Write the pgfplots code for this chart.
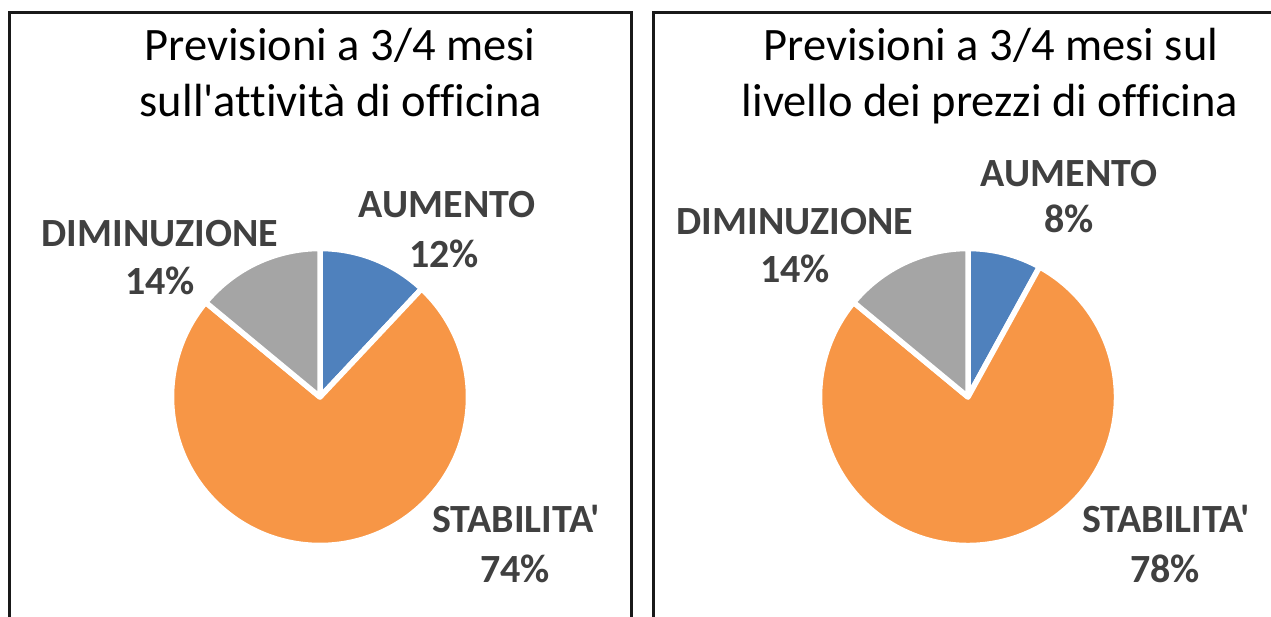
\documentclass[border=0pt]{standalone}
\usepackage{fontspec}
\setmainfont{Carlito}[Ligatures={TeXOff,NoCommon}]
\usepackage{pgfplots}
\usepackage{pgfplotstable}
\pgfplotsset{compat=1.18}
\definecolor{pieblue}{HTML}{4F81BD}
\definecolor{pieorange}{HTML}{F79646}
\definecolor{piegray}{HTML}{A5A5A5}
\definecolor{labgray}{HTML}{404040}

% share of each category, in percent
\pgfplotstableread{
label value
AUMENTO 12
STABILITA 74
DIMINUZIONE 14
}\leftdata
\pgfplotstableread{
label value
AUMENTO 8
STABILITA 78
DIMINUZIONE 14
}\rightdata

\newcommand{\pieangles}[2]{% table, prefix
  \pgfplotstablegetelem{0}{value}\of#1\pgfmathsetmacro\tmpa{\pgfplotsretval}%
  \pgfplotstablegetelem{1}{value}\of#1\pgfmathsetmacro\tmpb{\pgfplotsretval}%
  \pgfplotstablegetelem{2}{value}\of#1\pgfmathsetmacro\tmpc{\pgfplotsretval}%
  \pgfmathsetmacro\tmpx{90-3.6*\tmpa}\expandafter\xdef\csname #2b\endcsname{\tmpx}%
  \pgfmathsetmacro\tmpy{\tmpx-3.6*\tmpb}\expandafter\xdef\csname #2c\endcsname{\tmpy}%
  \pgfmathsetmacro\tmpz{\tmpy-3.6*\tmpc}\expandafter\xdef\csname #2d\endcsname{\tmpz}%
}

\newcommand{\pieslice}[5]{% color, cx, cy, start, end
  \filldraw[fill=#1, draw=white, line width=5.5pt, line join=round]
    (axis cs:#2,#3) -- ++(#4:148.5pt) arc[start angle=#4, end angle=#5, radius=148.5pt] -- cycle;
}

\pgfplotsset{piebox/.style={
  scale only axis,
  xtick=\empty, ytick=\empty,
  axis line style={line width=3pt, black!90},
  clip=false,
}}
\newcommand{\ttl}{\fontsize{46.5}{56}\selectfont}
\newcommand{\lab}{\fontsize{40}{48}\selectfont\bfseries}
\newcommand{\apo}{'}

\begin{document}
\begin{tikzpicture}
\useasboundingbox (0,0) rectangle (1271pt,616pt);
\pieangles{\leftdata}{L}
\pieangles{\rightdata}{R}

\begin{axis}[piebox, at={(10pt,-30pt)}, anchor=south west,
  width=621pt, height=633pt, xmin=10, xmax=631, ymin=-30, ymax=603]
  \pieslice{pieblue}{320}{219}{90}{\Lb}
  \pieslice{pieorange}{320}{219}{\Lb}{\Lc}
  \pieslice{piegray}{320}{219}{\Lc}{\Ld}
  \node[anchor=base, font=\ttl] at (axis cs:340,555) {Previsioni a 3/4 mesi};
  \node[anchor=base, font=\ttl] at (axis cs:341,499) {sull\apo attività di officina};
  \node[anchor=base, text=labgray, font=\lab] at (axis cs:447,398) {AUMENTO};
  \node[anchor=base, text=labgray, font=\lab] at (axis cs:444,348) {12\%};
  \node[anchor=base, text=labgray, font=\lab] at (axis cs:160,369) {DIMINUZIONE};
  \node[anchor=base, text=labgray, font=\lab] at (axis cs:160,321) {14\%};
  \node[anchor=base, text=labgray, font=\lab] at (axis cs:516,84) {STABILITA\apo};
  \node[anchor=base, text=labgray, font=\lab] at (axis cs:515,34) {74\%};
\end{axis}

\begin{axis}[piebox, at={(653pt,-30pt)}, anchor=south west,
  width=640pt, height=633pt, xmin=653, xmax=1293, ymin=-30, ymax=603]
  \pieslice{pieblue}{968}{219}{90}{\Rb}
  \pieslice{pieorange}{968}{219}{\Rb}{\Rc}
  \pieslice{piegray}{968}{219}{\Rc}{\Rd}
  \node[anchor=base, font=\ttl] at (axis cs:991,555) {Previsioni a 3/4 mesi sul};
  \node[anchor=base, font=\ttl] at (axis cs:990,499) {livello dei prezzi di officina};
  \node[anchor=base, text=labgray, font=\lab] at (axis cs:1069,429) {AUMENTO};
  \node[anchor=base, text=labgray, font=\lab] at (axis cs:1069,383) {8\%};
  \node[anchor=base, text=labgray, font=\lab] at (axis cs:795,381) {DIMINUZIONE};
  \node[anchor=base, text=labgray, font=\lab] at (axis cs:795,333) {14\%};
  \node[anchor=base, text=labgray, font=\lab] at (axis cs:1166,84) {STABILITA\apo};
  \node[anchor=base, text=labgray, font=\lab] at (axis cs:1165,34) {78\%};
\end{axis}
\end{tikzpicture}
\end{document}
